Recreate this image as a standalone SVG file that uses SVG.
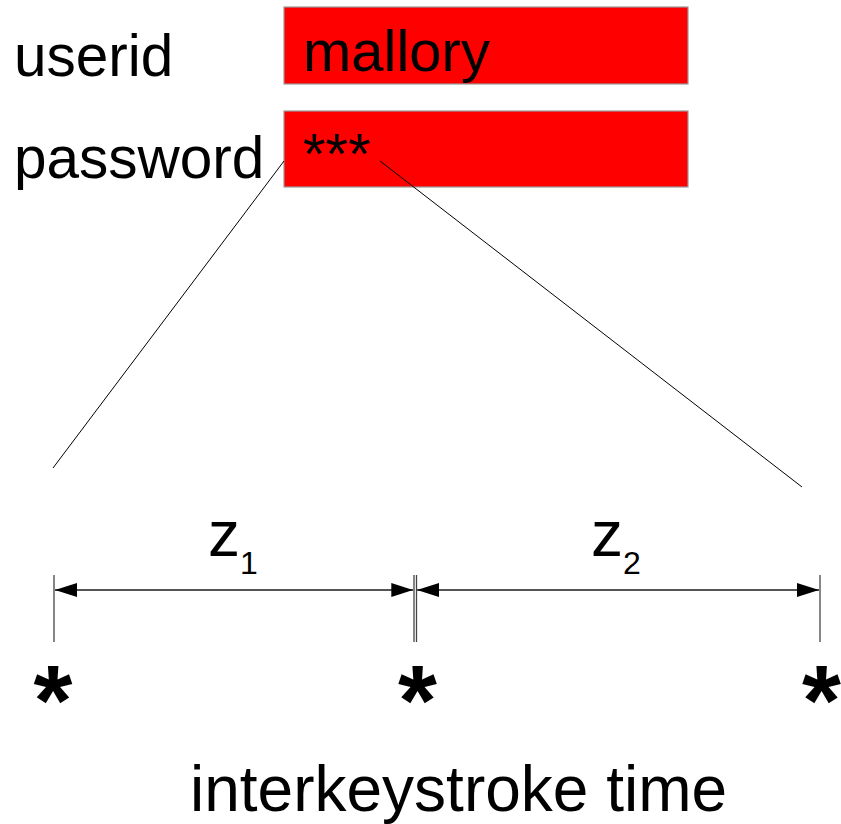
<svg xmlns="http://www.w3.org/2000/svg" width="841" height="824" viewBox="0 0 841 824">
<style>
text{font-family:"Liberation Sans",Arial,sans-serif;fill:#000}
.box{fill:#ff0000;stroke:#999;stroke-width:1.2}
.lbl{font-size:58.5px}
.val{font-size:58px}
.tick{stroke:#444;stroke-width:1.3}
.dim{stroke:#555;stroke-width:2;fill:none}
.star{font-size:100px;font-weight:bold;text-anchor:middle}
.zoom{stroke:#000;stroke-width:1;fill:none}
</style>
<defs>
<marker id="ah" viewBox="0 0 22 14" refX="22" refY="7" markerWidth="22" markerHeight="14" markerUnits="userSpaceOnUse" orient="auto-start-reverse">
<path d="M0,0 L22,7 L0,14 Z" fill="#000"/>
</marker>
</defs>
<rect width="841" height="824" fill="#fff"/>
<g id="userid-field">
<text class="lbl" x="14" y="76">userid</text>
<rect class="box" x="284" y="7" width="404" height="77"/>
<text class="val" x="303" y="71">mallory</text>
</g>
<g id="password-field">
<text class="lbl" x="14" y="178">password</text>
<rect class="box" x="284" y="111" width="404" height="76"/>
<text class="val" x="303" y="174">***</text>
</g>
<g id="connectors">
<line class="zoom" x1="284" y1="161" x2="53" y2="468"/>
<line class="zoom" x1="380" y1="161" x2="802" y2="487"/>
<line class="tick" x1="54" y1="575" x2="54" y2="642"/>
<line class="tick" x1="414" y1="575" x2="414" y2="642"/>
<line class="tick" x1="416.5" y1="575" x2="416.5" y2="642"/>
<line class="tick" x1="820" y1="575" x2="820" y2="642"/>
<line class="dim" x1="55" y1="590" x2="413.3" y2="590" marker-start="url(#ah)" marker-end="url(#ah)"/>
<line class="dim" x1="417" y1="590" x2="819" y2="590" marker-start="url(#ah)" marker-end="url(#ah)"/>
</g>
<g id="z1">
<text x="208" y="556" font-size="64">z<tspan font-size="32" dy="18">1</tspan></text>
</g>
<g id="z2">
<text x="591" y="556" font-size="64">z<tspan font-size="32" dy="18">2</tspan></text>
</g>
<g id="keystrokes">
<text class="star" x="53" y="735">*</text>
<text class="star" x="417.5" y="735">*</text>
<text class="star" x="821.5" y="735">*</text>
</g>
<g id="caption">
<text x="190" y="811" font-size="64">interkeystroke time</text>
</g>
</svg>
